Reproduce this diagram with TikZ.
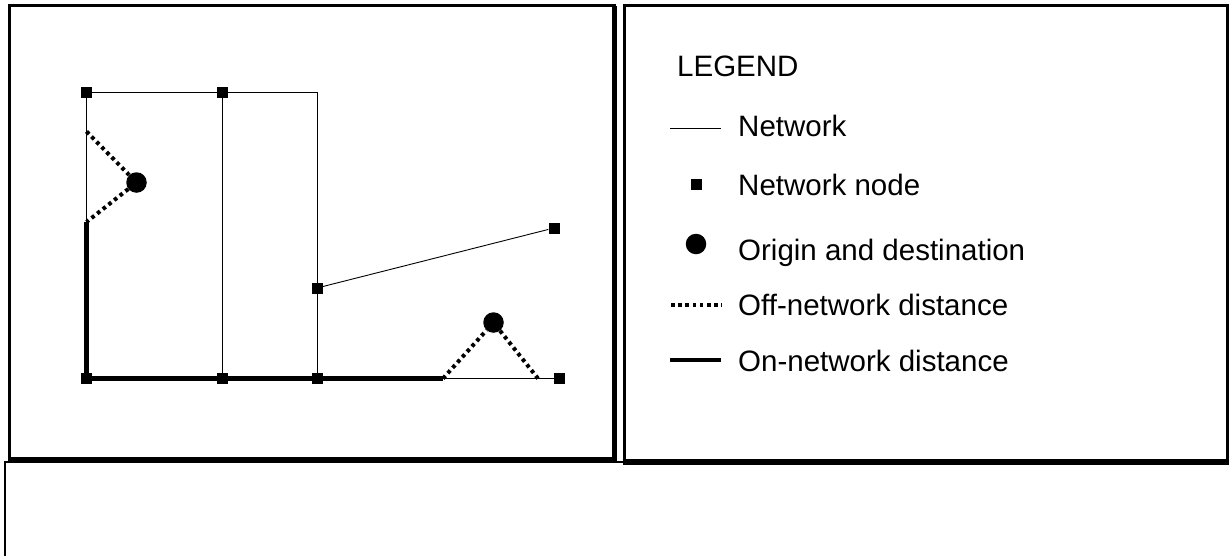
\documentclass[tikz,border=0pt]{standalone}
\usepackage{fontspec}
\setmainfont{Liberation Sans}
\begin{document}
\begin{tikzpicture}[x=1pt,y=1pt]
\tikzstyle{every node}+=[inner sep=0pt]
\tikzstyle{sq}=[rectangle,fill=black,minimum size=11pt]
\tikzstyle{od}=[circle,fill=black,minimum size=20.5pt]
\tikzstyle{net}=[black,line width=0.9pt]
\tikzstyle{onnet}=[black,line width=4.5pt]
\tikzstyle{offnet}=[black,line width=4pt,dash pattern=on 3.6pt off 3.6pt]
\tikzstyle{lbl}=[anchor=base west,font=\fontsize{29.5}{35}\selectfont]
\useasboundingbox (0,0) rectangle (1229,-555);
% frames
\draw [line width=1.8pt] (626,-462) -- (5,-462) -- (5,-560);
\draw [line width=3pt] (9.5,-5.5) rectangle (614.5,-459.5);
\draw [line width=4.4pt] (614.5,-5.5) -- (614.5,-459.5);
\draw [line width=6pt] (8,-459.5) -- (616.5,-459.5);
\draw [line width=3pt] (624,-5.5) rectangle (1227.5,-462);
\draw [line width=6pt] (622.5,-462) -- (1229,-462);
% network
\node [sq] (n1) at (86.5,-92) {};
\node [sq] (n2) at (222,-92) {};
\coordinate (n3) at (317,-92);
\node [sq] (n4) at (317,-288) {};
\node [sq] (n5) at (554,-228) {};
\node [sq] (n6) at (86.5,-378.5) {};
\node [sq] (n7) at (222,-378.5) {};
\node [sq] (n8) at (317,-378.5) {};
\node [sq] (n9) at (559,-378.5) {};
\node [od] (o1) at (136.5,-182.5) {};
\node [od] (o2) at (493.5,-322.5) {};
\coordinate (a1) at (86.5,-131.5);
\coordinate (a2) at (86.5,-222);
\coordinate (b1) at (443,-378.5);
\coordinate (b2) at (538,-378.5);
\draw [net] (n1.center) -- (n3) -- (n8.center);
\draw [net] (n2.center) -- (n7.center);
\draw [net] (n1.center) -- (a2);
\draw [net] (n4) -- (n5);
\draw [net] (b1) -- (n9.center);
\draw [onnet] (a2) -- (n6.center) -- (n7.center) -- (n8.center) -- (b1);
\draw [offnet] (a1) -- (o1) -- (a2);
\draw [offnet] (b1) -- (o2) -- (b2);
% legend
\node [lbl] (title) at (677,-76) {LEGEND};
\draw [net] (670,-128) -- (721,-128);
\node [lbl] (t1) at (738,-136) {Network};
\node [sq] (k2) at (696,-184) {};
\node [lbl] (t2) at (738,-195.5) {Network node};
\node [od] (k3) at (696,-244) {};
\node [lbl] (t3) at (738,-260) {Origin and destination};
\draw [offnet] (671,-304.5) -- (722,-304.5);
\node [lbl] (t4) at (738,-315) {Off-network distance};
\draw [onnet] (670,-360) -- (721,-360);
\node [lbl] (t5) at (738,-371.5) {On-network distance};
\end{tikzpicture}
\end{document}
